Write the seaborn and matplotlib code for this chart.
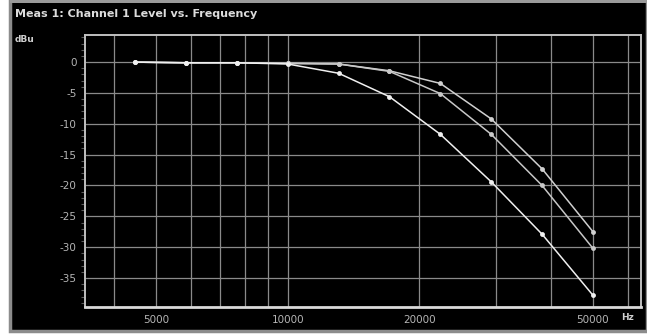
import matplotlib
matplotlib.use("Agg")
import matplotlib.pyplot as plt
import matplotlib.patches as patches
from matplotlib.ticker import FixedLocator, NullFormatter, MultipleLocator
import numpy as np
import pandas as pd
import seaborn as sns

# ---- data ----
freqs = [4472, 5848, 7647, 10000, 13077, 17100, 22361, 29240, 38237, 50000]
trace_a = [0.0, -0.1, -0.1, -0.2, -0.3, -1.4, -3.45, -9.2, -17.3, -27.5]
trace_b = [0.0, -0.1, -0.1, -0.2, -0.3, -1.5, -5.1, -11.7, -20.0, -30.2]
trace_c = [0.0, -0.1, -0.1, -0.3, -1.8, -5.6, -11.7, -19.4, -27.9, -37.8]
trace_names = ["Trace 1", "Trace 2", "Trace 3"]

x_ticks = [5000, 10000, 20000, 50000]
x_tick_labels = ["5000", "10000", "20000", "50000"]
x_grid = [4000, 5000, 6000, 7000, 8000, 9000, 10000, 20000, 30000, 40000, 50000, 60000]
y_ticks = [0, -5, -10, -15, -20, -25, -30, -35]
y_tick_labels = ["0", "-5", "-10", "-15", "-20", "-25", "-30", "-35"]

title_text = "Meas 1: Channel 1 Level vs. Frequency"
y_unit = "dBu"
x_unit = "Hz"

df = pd.DataFrame({
    "freq": freqs * 3,
    "level": trace_a + trace_b + trace_c,
    "trace": sum([[n] * len(freqs) for n in trace_names], []),
})

sns.set_theme(style="dark")
plt.rcParams["font.family"] = ["DejaVu Sans"]

W, H = 647, 335
fig = plt.figure(figsize=(W / 100, H / 100), dpi=100)
fig.patch.set_facecolor("white")

# outer black panel with gray frame
panel = patches.Rectangle((10 / W, 4 / H), (W - 10) / W, (H - 4) / H,
                          transform=fig.transFigure, facecolor="black",
                          edgecolor="#8c8c8c", linewidth=2.5, zorder=-10)
fig.patches.append(panel)
topband = patches.Rectangle((10 / W, (H - 3) / H), (W - 10) / W, 3 / H,
                            transform=fig.transFigure, facecolor="#9a9a9a",
                            edgecolor="none", zorder=-9)
fig.patches.append(topband)

ax = fig.add_axes([85 / W, 1 - 307 / H, (641 - 85) / W, (307 - 35) / H])
ax.set_zorder(5)
ax.set_facecolor("black")

sns.lineplot(data=df, x="freq", y="level", hue="trace",
             palette=["#d0d0d0", "#c8c8c8", "#f0f0f0"],
             marker="o", markersize=3.5, markeredgewidth=0,
             linewidth=1.1, legend=False, ax=ax, zorder=3)

ax.set_xscale("log")
ax.set_xlim(3436, 64400)
ax.set_ylim(-39.7, 4.4)

ax.xaxis.set_major_locator(FixedLocator(x_ticks))
ax.set_xticklabels(x_tick_labels)
ax.xaxis.set_minor_locator(FixedLocator([g for g in x_grid if g not in x_ticks]))
ax.xaxis.set_minor_formatter(NullFormatter())
ax.set_yticks(y_ticks)
ax.set_yticklabels(y_tick_labels)
ax.yaxis.set_minor_locator(MultipleLocator(1))

ax.grid(True, which="major", color="#8a8a8a", linewidth=0.9)
ax.grid(True, which="minor", axis="x", color="#8a8a8a", linewidth=0.9)
ax.grid(False, which="minor", axis="y")

ax.tick_params(axis="both", which="major", colors="#b5b5b5", labelsize=7.5,
               length=0, pad=6)
ax.tick_params(axis="y", which="minor", colors="#5a5a5a", length=3, width=0.8,
               left=True, direction="out")
ax.tick_params(axis="x", which="minor", length=0)
ax.set_xlabel("")
ax.set_ylabel("")
for s in ax.spines.values():
    s.set_visible(True)
    s.set_color("#bfbfbf")
    s.set_linewidth(1.4)
ax.spines["bottom"].set_color("#d9d9d9")
ax.spines["bottom"].set_linewidth(2)

fig.text(15 / W, 1 - 14 / H, title_text, color="#dcdcdc", fontsize=8,
         fontweight="bold", ha="left", va="center")
fig.text(15 / W, 1 - 40 / H, y_unit, color="#d0d0d0", fontsize=6.5,
         fontweight="bold", ha="left", va="center")
fig.text(628 / W, 1 - 317 / H, x_unit, color="#d0d0d0", fontsize=6.5,
         fontweight="bold", ha="center", va="center")

fig.savefig("out.png", dpi=100, facecolor="white")
